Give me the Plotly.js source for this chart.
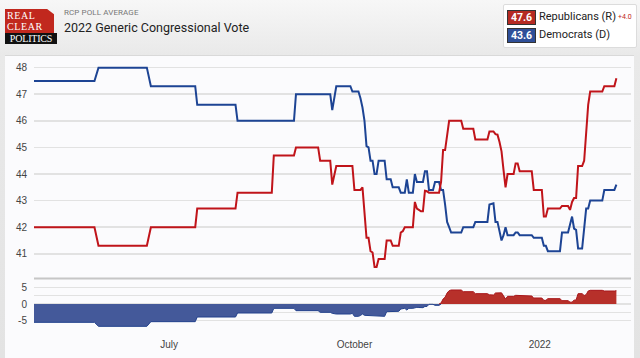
<!DOCTYPE html>
<html>
<head>
<meta charset="utf-8">
<script src="https://cdn.plot.ly/plotly-3.0.1.min.js"></script>
<style>
  html, body { margin:0; padding:0; }
  body { width:640px; height:358px; overflow:hidden; position:relative;
         background: linear-gradient(to bottom, #f7f7f7 0px, #e9e9e9 55px, #e3e3e3 358px);
         font-family: Roboto, "Liberation Sans", Arial, sans-serif; }
  #panel { position:absolute; left:5px; top:55px; width:629px; height:303px;
           background:#fbfbfd; border-top:1px solid #d9d9d9; }
  #chart { position:absolute; left:0; top:0; width:640px; height:358px; }
  #logo { position:absolute; left:5px; top:9px; width:52px; height:35px; }
  #logo .red { position:absolute; left:0; top:0; width:49px; height:24px; background:#c1281e;
               clip-path: polygon(0 0, 86% 0, 100% 22%, 100% 100%, 0 100%); }
  #logo .l1, #logo .l2 { position:absolute; left:2px; color:#fff; font-family:"Liberation Serif","DejaVu Serif",serif;
               font-size:10px; line-height:10px; height:10px; letter-spacing:0.6px; }
  #logo .l1 { top:2px; } #logo .l2 { top:13px; }
  #logo .blk { position:absolute; left:0; top:24px; width:52px; height:11px; background:#111;
               color:#fff; font-family:"Liberation Serif","DejaVu Serif",serif; font-size:10px; line-height:11px;
               text-align:center; letter-spacing:-0.2px; }
  #sub { position:absolute; left:64px; top:8px; font-size:8px; color:#777; letter-spacing:0.1px; }
  #ttl { position:absolute; left:64px; top:20px; font-size:12.5px; color:#222; }
  #leg { position:absolute; left:503px; top:4px; width:132px; height:42px; background:#fff;
         border:1px solid #dcdcdc; border-radius:2px; }
  .row { position:absolute; left:3px; height:15px; }
  .box { position:absolute; left:0; top:0; width:27px; height:13px; color:#fff; font-size:10.5px; font-weight:bold;
         line-height:13px; text-align:center; border:1px solid #333; }
  .lab { position:absolute; left:32px; top:-1px; font-size:11px; line-height:15px; color:#222; white-space:nowrap; }
  .diff { font-size:7px; color:#c1281e; margin-left:2px; vertical-align:1px; }
</style>
</head>
<body>
<div id="panel"></div>
<div id="logo">
  <div class="red"><div class="l1">REAL</div><div class="l2">CLEAR</div></div>
  <div class="blk">POLITICS</div>
</div>
<div id="sub">RCP POLL AVERAGE</div>
<div id="ttl">2022 Generic Congressional Vote</div>
<div id="leg">
  <div class="row" style="top:5px;"><div class="box" id="rbox" style="background:#b52a22;"></div><div class="lab"><span id="rname"></span><span class="diff" id="rdiff"></span></div></div>
  <div class="row" style="top:23px;"><div class="box" id="dbox" style="background:#2f4f98;"></div><div class="lab" id="dname"></div></div>
</div>
<div id="chart"></div>
<script>
const seriesNames = ["Republicans (R)", "Democrats (D)"];
const chartTitle = "2022 Generic Congressional Vote";
const xTickDates = ["2021-07-01", "2021-10-01", "2022-01-01"];
const xTickLabels = ["July", "October", "2022"];

const dates = [
  "2021-04-25","2021-05-25","2021-05-27","2021-06-20","2021-06-22",
  "2021-07-14","2021-07-15","2021-08-03","2021-08-04","2021-08-21","2021-08-22",
  "2021-09-01","2021-09-02","2021-09-13","2021-09-14","2021-09-19","2021-09-20","2021-09-22","2021-09-29","2021-09-30",
  "2021-10-01","2021-10-03","2021-10-04","2021-10-05","2021-10-06","2021-10-07","2021-10-08","2021-10-09","2021-10-10","2021-10-11",
  "2021-10-12","2021-10-13","2021-10-16","2021-10-17","2021-10-19","2021-10-20","2021-10-23","2021-10-24","2021-10-25","2021-10-26",
  "2021-10-27","2021-10-28","2021-10-30","2021-10-31",
  "2021-11-01","2021-11-02","2021-11-03","2021-11-04","2021-11-05","2021-11-06","2021-11-07","2021-11-09","2021-11-10","2021-11-12",
  "2021-11-13","2021-11-14","2021-11-15","2021-11-16","2021-11-17","2021-11-18","2021-11-23","2021-11-24","2021-11-29","2021-11-30",
  "2021-12-06","2021-12-07","2021-12-09","2021-12-10","2021-12-11","2021-12-12","2021-12-13","2021-12-14","2021-12-15","2021-12-16",
  "2021-12-19","2021-12-20","2021-12-21","2021-12-22","2021-12-28","2021-12-29",
  "2022-01-02","2022-01-03","2022-01-04","2022-01-05","2022-01-11","2022-01-12","2022-01-15","2022-01-16","2022-01-17","2022-01-18",
  "2022-01-19","2022-01-20","2022-01-22","2022-01-23","2022-01-24","2022-01-25","2022-01-26","2022-02-01","2022-02-02","2022-02-07",
  "2022-02-08"
];
const rep = [
  42.0, 42.0, 41.3, 41.3, 42.0,
  42.0, 42.7, 42.7, 43.3, 43.3, 44.7,
  44.7, 45.0, 45.0, 44.5, 44.5, 43.6, 44.3, 44.3, 44.3,
  43.4, 43.4, 43.4, 43.5, 42.6, 41.6, 41.6, 41.1, 41.05, 40.5,
  40.5, 40.8, 40.8, 41.5, 41.5, 41.3, 41.3, 41.8, 41.85, 42.0,
  42.0, 42.0, 42.0, 42.95,
  42.7, 42.65, 42.6, 42.6, 43.37, 43.35, 43.3, 43.3, 43.3, 43.3,
  43.7, 44.9, 44.9, 45.5, 46.0, 46.0, 46.0, 45.7, 45.7, 45.3,
  45.3, 45.6, 45.6, 45.5, 45.48, 45.2, 44.85, 44.15, 43.5, 44.0,
  44.0, 44.4, 44.4, 44.1, 44.1, 43.4,
  43.4, 42.4, 42.4, 42.7, 42.7, 42.8, 42.8, 42.65, 42.95, 43.1,
  43.1, 44.3, 44.3, 44.5, 45.5, 46.6, 47.1, 47.1, 47.3, 47.3,
  47.6
];
const dem = [
  47.5, 47.5, 48.0, 48.0, 47.3,
  47.3, 46.6, 46.6, 46.0, 46.0, 46.0,
  46.0, 47.0, 47.0, 47.0, 47.0, 46.4, 47.3, 47.3, 47.1,
  47.1, 47.1, 46.85, 46.5, 46.0, 45.05, 45.0, 44.5, 44.5, 44.0,
  44.0, 44.5, 44.5, 43.8, 43.8, 43.5, 43.5, 43.3, 43.3, 43.3,
  43.8, 43.3, 43.3, 44.0,
  43.7, 43.7, 43.7, 43.7, 44.1, 44.1, 43.4, 43.4, 43.7, 43.7,
  43.4, 43.4, 42.85, 42.2, 42.0, 41.8, 41.8, 42.0, 42.0, 42.2,
  42.2, 42.85, 42.9, 42.2, 42.2, 41.85, 41.5, 41.7, 42.0, 41.7,
  41.7, 41.8, 41.8, 41.7, 41.7, 41.6,
  41.6, 41.3, 41.3, 41.1, 41.1, 41.8, 41.8, 42.1, 42.4, 41.95,
  41.9, 41.2, 41.2, 41.95, 42.7, 42.7, 43.0, 43.0, 43.4, 43.4,
  43.6
];

// Legend texts from the data
const lastR = rep[rep.length-1], lastD = dem[dem.length-1];
document.getElementById('rbox').textContent = lastR.toFixed(1);
document.getElementById('dbox').textContent = lastD.toFixed(1);
document.getElementById('rname').textContent = seriesNames[0];
document.getElementById('dname').textContent = seriesNames[1];
document.getElementById('rdiff').textContent = (lastR-lastD >= 0 ? '+' : '') + (lastR-lastD).toFixed(1);
document.getElementById('ttl').textContent = chartTitle;

const spread = rep.map((r,i) => +(r - dem[i]).toFixed(2));
// split spread into the part above zero and the part below; keep one zero point at each crossing
function part(sign) {
  return spread.map((v, i) => {
    const inside = sign > 0 ? v > 0 : v < 0;
    if (inside) return v;
    const prev = spread[i-1], next = spread[i+1];
    const touches = (prev !== undefined && (sign > 0 ? prev > 0 : prev < 0)) ||
                    (next !== undefined && (sign > 0 ? next > 0 : next < 0));
    return touches ? 0 : null;
  });
}
const pos = part(1);
const neg = part(-1);

const RED = '#c0141a', BLUE = '#1d4494';
const traces = [
  {x: dates, y: neg, xaxis:'x', yaxis:'y2', type:'scatter', mode:'lines', fill:'tozeroy',
   fillcolor:'#44599a', line:{color:'#22418c', width:1}, hoverinfo:'skip', connectgaps:false},
  {x: dates, y: pos, xaxis:'x', yaxis:'y2', type:'scatter', mode:'lines', fill:'tozeroy',
   fillcolor:'#b7302a', line:{color:'#a8161a', width:1}, hoverinfo:'skip', connectgaps:false},
  {x: dates, y: dem, xaxis:'x', yaxis:'y', type:'scatter', mode:'lines', name: seriesNames[1],
   line:{color:BLUE, width:2}},
  {x: dates, y: rep, xaxis:'x', yaxis:'y', type:'scatter', mode:'lines', name: seriesNames[0],
   line:{color:RED, width:2}}
];

const tickFont = {family:'"Liberation Sans", Arial, sans-serif', size:10, color:'#444'};
const layout = {
  width:640, height:358,
  margin:{l:34, r:9, t:57, b:29},
  paper_bgcolor:'rgba(0,0,0,0)', plot_bgcolor:'rgba(0,0,0,0)',
  showlegend:false,
  xaxis:{type:'date', anchor:'y2', range:['2021-04-25','2022-02-15 06:00'],
         tickvals:xTickDates, ticktext:xTickLabels, tickfont:tickFont,
         ticks:'outside', ticklen:6, tickcolor:'rgba(0,0,0,0)',
         showgrid:false, zeroline:false, showline:false},
  yaxis:{domain:[0.1875, 1], range:[40.09, 48.40], dtick:1, tick0:40, tickfont:tickFont,
         gridcolor:'#e2e2e2', gridwidth:1.5, zeroline:false, showline:false,
         ticks:'outside', ticklen:4, tickcolor:'rgba(0,0,0,0)'},
  yaxis2:{domain:[0, 0.1838], range:[-7.5, 7.5], tickvals:[-7.5,-5,-2.5,0,2.5,5,7.5],
          ticktext:['','-5','','0','','5',''], tickfont:tickFont,
          gridcolor:'#e2e2e2', gridwidth:1.5, zeroline:false, showline:false,
          ticks:'outside', ticklen:4, tickcolor:'rgba(0,0,0,0)'},
  shapes:[
    {type:'line', xref:'paper', yref:'paper', x0:0, x1:1, y0:0.186, y1:0.186,
     line:{color:'#c6c6c6', width:2}}
  ]
};
Plotly.newPlot('chart', traces, layout, {staticPlot:true, displayModeBar:false});
</script>
</body>
</html>
